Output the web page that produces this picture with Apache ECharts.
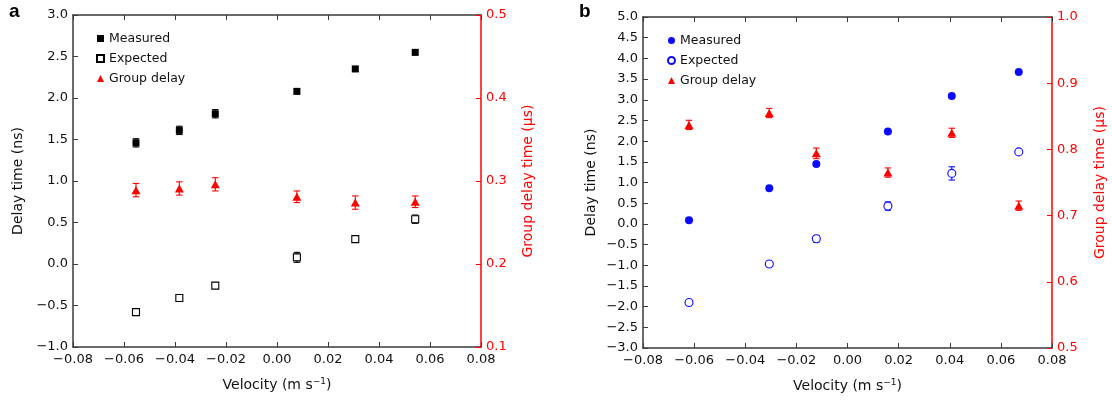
<!DOCTYPE html>
<html>
<head>
<meta charset="utf-8">
<script src="https://cdn.jsdelivr.net/npm/echarts@6/dist/echarts.min.js"></script>
<style>
html,body{margin:0;padding:0;background:#fff;}
#c{width:1112px;height:403px;}
</style>
</head>
<body>
<div id="c"></div>
<script>
// ---- Data (panel a) ----
const velA = [-0.0553, -0.0383, -0.0242, 0.0078, 0.0307, 0.0542];
const measA = [1.46, 1.61, 1.81, 2.08, 2.35, 2.55];
const measAErr = [0.05, 0.05, 0.05, 0.03, 0.03, 0.03];
const expA = [-0.58, -0.41, -0.26, 0.08, 0.30, 0.54];
const expAErr = [0.03, 0.03, 0.03, 0.06, 0.03, 0.05];
const groupA = [0.289, 0.291, 0.296, 0.281, 0.274, 0.275];
const groupAErr = [0.008, 0.008, 0.008, 0.007, 0.008, 0.007];

// ---- Data (panel b) ----
const velB = [-0.0620, -0.0306, -0.0122, 0.0158, 0.0408, 0.0670];
const measB = [0.09, 0.86, 1.45, 2.23, 3.09, 3.67];
const measBErr = [0.02, 0.02, 0.02, 0.02, 0.02, 0.02];
const expB = [-1.90, -0.97, -0.36, 0.43, 1.22, 1.74];
const expBErr = [0.04, 0.04, 0.08, 0.10, 0.16, 0.05];
const groupB = [0.837, 0.855, 0.794, 0.765, 0.825, 0.715];
const groupBErr = [0.007, 0.007, 0.008, 0.007, 0.007, 0.007];

// ---- Axis ranges / labels ----
const xRange = [-0.08, 0.08];
const yLeftA = [-1, 3], yRightA = [0.1, 0.5];
const yLeftB = [-3, 5], yRightB = [0.5, 1.0];
const legendNames = ['Measured', 'Expected', 'Group delay'];

const FONT = '"DejaVu Sans", sans-serif';
const TXT = '#111';
const AX = '#3a3a3a';
const RED = '#ff0000';
const BLUE = '#0a0aff';

const minus = s => s.replace('-', '\u2212');
const pts = (xs, ys) => xs.map((x, i) => [x, ys[i]]);
const errs = (xs, ys, es) => xs.map((x, i) => [x, ys[i] - es[i], ys[i] + es[i]]);

function errSeries(data, xi, yi, color) {
  return {
    type: 'custom', xAxisIndex: xi, yAxisIndex: yi, z: 1, silent: true,
    data: data,
    renderItem: function (params, api) {
      const x = api.value(0), lo = api.value(1), hi = api.value(2);
      const a = api.coord([x, hi]), b = api.coord([x, lo]);
      const w = 3.2;
      const st = { stroke: color, lineWidth: 1.1 };
      return { type: 'group', children: [
        { type: 'line', shape: { x1: a[0], y1: a[1], x2: b[0], y2: b[1] }, style: st },
        { type: 'line', shape: { x1: a[0] - w, y1: a[1], x2: a[0] + w, y2: a[1] }, style: st },
        { type: 'line', shape: { x1: b[0] - w, y1: b[1], x2: b[0] + w, y2: b[1] }, style: st }
      ]};
    }
  };
}

function xAxisPair(gi) {
  const common = {
    type: 'value', gridIndex: gi, min: xRange[0], max: xRange[1], interval: 0.02,
    splitLine: { show: false },
    axisLine: { show: true, onZero: false, lineStyle: { color: AX, width: 1.5 } },
    axisTick: { show: true, inside: true, length: 5, lineStyle: { color: AX, width: 1 } }
  };
  return [
    Object.assign({}, common, {
      position: 'bottom',
      axisLabel: { color: TXT, fontFamily: FONT, fontSize: 13, margin: 6,
        formatter: v => minus(v.toFixed(2)) },
      name: '{n|Velocity (m s}{s|\u22121}{n|)}',
      nameLocation: 'middle', nameGap: 30,
      nameTextStyle: { rich: {
        n: { fontFamily: FONT, fontSize: 14, color: TXT },
        s: { fontFamily: FONT, fontSize: 9, color: TXT, padding: [0, 0, 8, 0] }
      } }
    }),
    Object.assign({}, common, { position: 'top', axisLabel: { show: false } })
  ];
}

function yAxes(gi, left, right, nameGap1, nameGap2) {
  return [
    {
      type: 'value', gridIndex: gi, position: 'left', min: left[0], max: left[1], interval: 0.5,
      splitLine: { show: false },
      axisLine: { show: true, onZero: false, lineStyle: { color: AX, width: 1.5 } },
      axisTick: { show: true, inside: true, length: 5, lineStyle: { color: AX } },
      axisLabel: { color: TXT, fontFamily: FONT, fontSize: 13, margin: 5,
        formatter: v => minus(v.toFixed(1)) },
      name: 'Delay time (ns)', nameLocation: 'middle', nameGap: nameGap1,
      nameTextStyle: { color: TXT, fontFamily: FONT, fontSize: 14 }
    },
    {
      type: 'value', gridIndex: gi, position: 'right', min: right[0], max: right[1], interval: 0.1,
      splitLine: { show: false },
      axisLine: { show: true, onZero: false, lineStyle: { color: RED, width: 1.5 } },
      axisTick: { show: true, inside: true, length: 5, lineStyle: { color: RED } },
      axisLabel: { color: RED, fontFamily: FONT, fontSize: 13, margin: 5,
        formatter: v => v.toFixed(1) },
      name: 'Group delay time (\u03bcs)', nameLocation: 'middle', nameGap: nameGap2,
      nameRotate: 90,
      nameTextStyle: { color: RED, fontFamily: FONT, fontSize: 14 }
    }
  ];
}

const legendCommon = {
  orient: 'vertical', padding: 0, itemGap: 7, itemWidth: 7, itemHeight: 7,
  textStyle: { color: TXT, fontFamily: FONT, fontSize: 12.5 },
  formatter: n => n.slice(2), selectedMode: false
};

const option = {
  animation: false,
  backgroundColor: '#fff',
  grid: [
    { left: 73, top: 15, width: 408, height: 332 },
    { left: 643, top: 17, width: 409, height: 331 }
  ],
  xAxis: [].concat(xAxisPair(0), xAxisPair(1)),
  yAxis: [].concat(yAxes(0, yLeftA, yRightA, 48, 40), yAxes(1, yLeftB, yRightB, 45, 41)),
  legend: [
    Object.assign({}, legendCommon, { left: 96, top: 32,
      data: legendNames.map(n => 'a:' + n) }),
    Object.assign({}, legendCommon, { left: 667, top: 34,
      data: legendNames.map(n => 'b:' + n) })
  ],
  graphic: [
    { type: 'text', left: 9, top: 2, style: { text: 'a', font: 'bold 19px "Liberation Sans", Arial, sans-serif', fill: '#000' } },
    { type: 'text', left: 579, top: 2, style: { text: 'b', font: 'bold 19px "Liberation Sans", Arial, sans-serif', fill: '#000' } }
  ],
  series: [
    // panel a
    errSeries(errs(velA, measA, measAErr), 0, 0, '#000'),
    errSeries(errs(velA, expA, expAErr), 0, 0, '#000'),
    errSeries(errs(velA, groupA, groupAErr), 0, 1, RED),
    { name: 'a:Measured', type: 'scatter', xAxisIndex: 0, yAxisIndex: 0, z: 3,
      symbol: 'rect', symbolSize: 7, itemStyle: { color: '#000', opacity: 1 }, data: pts(velA, measA) },
    { name: 'a:Expected', type: 'scatter', xAxisIndex: 0, yAxisIndex: 0, z: 3,
      symbol: 'rect', symbolSize: 7, itemStyle: { color: '#fff', borderColor: '#000', borderWidth: 1.1, opacity: 1 },
      data: pts(velA, expA) },
    { name: 'a:Group delay', type: 'scatter', xAxisIndex: 0, yAxisIndex: 1, z: 3,
      symbol: 'triangle', symbolSize: [9, 8], itemStyle: { color: RED, opacity: 1 }, data: pts(velA, groupA) },
    // panel b
    errSeries(errs(velB, measB, measBErr), 2, 2, BLUE),
    errSeries(errs(velB, expB, expBErr), 2, 2, BLUE),
    errSeries(errs(velB, groupB, groupBErr), 2, 3, RED),
    { name: 'b:Measured', type: 'scatter', xAxisIndex: 2, yAxisIndex: 2, z: 3,
      symbol: 'circle', symbolSize: 8, itemStyle: { color: BLUE, opacity: 1 }, data: pts(velB, measB) },
    { name: 'b:Expected', type: 'scatter', xAxisIndex: 2, yAxisIndex: 2, z: 3,
      symbol: 'circle', symbolSize: 8, itemStyle: { color: '#fff', borderColor: BLUE, borderWidth: 1.1, opacity: 1 },
      data: pts(velB, expB) },
    { name: 'b:Group delay', type: 'scatter', xAxisIndex: 2, yAxisIndex: 3, z: 3,
      symbol: 'triangle', symbolSize: [9, 8], itemStyle: { color: RED, opacity: 1 }, data: pts(velB, groupB) }
  ]
};

const chart = echarts.init(document.getElementById('c'), null, { renderer: 'canvas' });
chart.setOption(option);
</script>
</body>
</html>
